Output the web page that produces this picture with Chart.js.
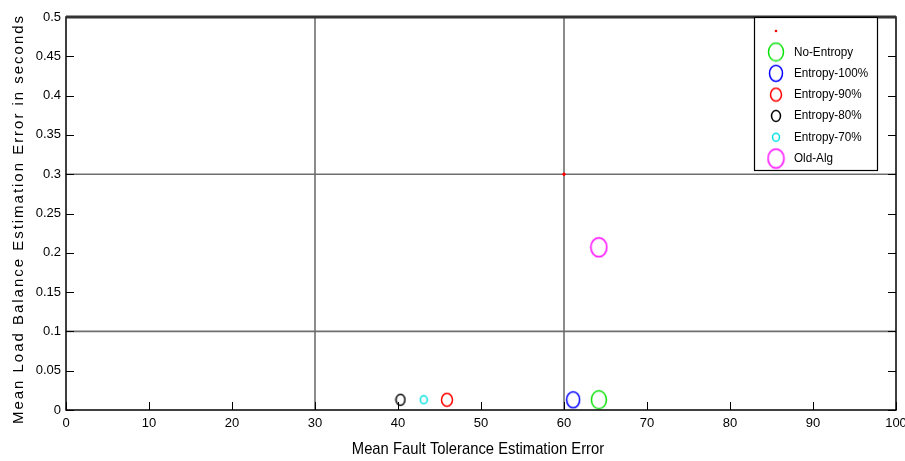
<!DOCTYPE html>
<html><head><meta charset="utf-8">
<script src="https://cdn.jsdelivr.net/npm/chart.js@4/dist/chart.umd.min.js"></script>
<style>html,body{margin:0;padding:0;background:#fff}#wrap{width:905px;height:461px}</style>
</head><body><div id="wrap"><canvas id="c" width="905" height="461"></canvas></div>
<script>
const seriesNames = ['No-Entropy','Entropy-100%','Entropy-90%','Entropy-80%','Entropy-70%','Old-Alg'];
const seriesX = [64.2, 61.1, 45.9, 40.3, 43.1, 64.2];
const seriesY = [0.013, 0.013, 0.013, 0.013, 0.013, 0.207];
const seriesColors = ['#00e000','#0000ff','#ff0000','#000000','#00e0e0','#ff00ff'];
const markerW = [15, 13, 11, 9, 7, 16];
const markerH = [18, 16, 13, 11, 8, 19];
const refPointsX = [0, 60, 100];
const refPointsY = [0, 0.3, 0.5];
const gridX = [30, 60];
const gridY = [0.1, 0.3];
const xTicks = [0,10,20,30,40,50,60,70,80,90,100];
const yTicks = [0,0.05,0.1,0.15,0.2,0.25,0.3,0.35,0.4,0.45,0.5];
const xTitle = 'Mean Fault Tolerance Estimation Error';
const yTitle = 'Mean Load Balance Estimation Error in seconds';

function ellipse(w,h,color){
  const c=document.createElement('canvas'); c.width=w+3; c.height=h+3;
  const g=c.getContext('2d'); g.strokeStyle=color; g.lineWidth=1.5;
  g.beginPath(); g.ellipse((w+3)/2,(h+3)/2,w/2,h/2,0,0,Math.PI*2); g.stroke();
  return c;
}

const datasets = [];
datasets.push({label:'', data: refPointsX.map((x,i)=>({x, y: refPointsY[i]})), pointStyle:'circle', pointRadius:1.3, backgroundColor:'#ff0000', borderColor:'#ff0000', showLine:false, order:0});
seriesNames.forEach((n,i)=>{
  datasets.push({label:n, data:[{x:seriesX[i], y:seriesY[i]}], pointStyle: ellipse(markerW[i],markerH[i],seriesColors[i]), borderColor:seriesColors[i], backgroundColor:'transparent', showLine:false, order:1});
});
gridX.forEach(v=>datasets.push({label:'_grid', data:[{x:v,y:0},{x:v,y:0.5}], showLine:true, pointRadius:0, borderColor:'#6e6e6e', borderWidth:1.6, order:5}));
gridY.forEach(v=>datasets.push({label:'_grid', data:[{x:0,y:v},{x:100,y:v}], showLine:true, pointRadius:0, borderColor:'#6e6e6e', borderWidth:1.6, order:5}));

const frame = {
  id:'frame',
  afterDatasetsDraw(chart){
    const {ctx, chartArea:a, scales:{x,y}} = chart;
    ctx.save();
    ctx.strokeStyle='#000'; ctx.lineWidth=1;
    ctx.beginPath();
    xTicks.forEach(v=>{const px=Math.round(x.getPixelForValue(v))+0.5; ctx.moveTo(px,a.bottom); ctx.lineTo(px,a.bottom-8);});
    yTicks.forEach(v=>{const py=Math.round(y.getPixelForValue(v))+0.5; ctx.moveTo(a.left,py); ctx.lineTo(a.left+8,py); ctx.moveTo(a.right,py); ctx.lineTo(a.right-8,py);});
    ctx.stroke();
    ctx.lineWidth=1.5;
    ctx.strokeRect(a.left, a.top, a.right-a.left, a.bottom-a.top);
    ctx.lineWidth=3; ctx.strokeStyle='#333';
    ctx.beginPath(); ctx.moveTo(a.left,a.top); ctx.lineTo(a.right,a.top); ctx.stroke();
    // legend box
    const lx=754, ly=a.top, lw=123, lh=153;
    ctx.fillStyle='#fff'; ctx.fillRect(lx,ly,lw,lh);
    ctx.strokeStyle='#000'; ctx.lineWidth=1.2; ctx.strokeRect(lx+0.5,ly+0.5,lw,lh);
    ctx.fillStyle='#ff0000'; ctx.beginPath(); ctx.arc(776, ly+14, 1.3,0,Math.PI*2); ctx.fill();
    ctx.font='13px "Liberation Sans", Arial, sans-serif'; ctx.textBaseline='middle';
    seriesNames.forEach((n,i)=>{
      const cy = ly+35+i*21.3;
      const img = chart.data.datasets[i+1].pointStyle;
      ctx.drawImage(img, 776-img.width/2, cy-img.height/2);
      ctx.fillStyle='#000';
      ctx.save(); ctx.translate(794, cy); ctx.scale(0.9,1); ctx.fillText(n,0,0); ctx.restore();
    });
    // y title with letter spacing
    ctx.save();
    ctx.font='15px "Liberation Sans", Arial, sans-serif';
    ctx.fillStyle='#000'; ctx.textAlign='center'; ctx.textBaseline='middle';
    const w0 = ctx.measureText(yTitle).width;
    const sp = (410 - w0)/yTitle.length;
    ctx.letterSpacing = sp.toFixed(2)+'px';
    ctx.translate(19, 220); ctx.rotate(-Math.PI/2);
    ctx.fillText(yTitle, sp/2, 0);
    ctx.restore();
    // x title (condensed)
    ctx.save();
    ctx.font='17px "Liberation Sans", Arial, sans-serif';
    ctx.fillStyle='#000'; ctx.textAlign='center'; ctx.textBaseline='middle';
    ctx.translate(478, 449); ctx.scale(0.87,1);
    ctx.fillText(xTitle, 0, 0);
    ctx.restore();
    ctx.restore();
  }
};

new Chart(document.getElementById('c'), {
  type:'scatter',
  data:{datasets},
  options:{
    responsive:false, animation:false, devicePixelRatio:1,
    layout:{padding:{top:17,right:9,left:0,bottom:0}},
    plugins:{legend:{display:false}, tooltip:{enabled:false}},
    scales:{
      x:{type:'linear', min:0, max:100, afterBuildTicks(s){s.ticks=xTicks.map(v=>({value:v}));},
        grid:{display:false, drawTicks:false}, border:{display:false},
        ticks:{color:'#000', padding:6, font:{family:'"Liberation Sans", Arial, sans-serif', size:13}, maxRotation:0},
        title:{display:false},
        afterFit(s){s.height=51; s.paddingLeft=0; s.paddingRight=0;}},
      y:{type:'linear', min:0, max:0.5, afterBuildTicks(s){s.ticks=yTicks.map(v=>({value:v}));},
        grid:{display:false, drawTicks:false}, border:{display:false},
        ticks:{color:'#000', padding:5, font:{family:'"Liberation Sans", Arial, sans-serif', size:13}, callback:(v)=>String(+v.toFixed(2))},
        title:{display:false},
        afterFit(s){s.width=66; s.paddingTop=0; s.paddingBottom=0;}}
    }
  },
  plugins:[frame]
});
</script></body></html>
